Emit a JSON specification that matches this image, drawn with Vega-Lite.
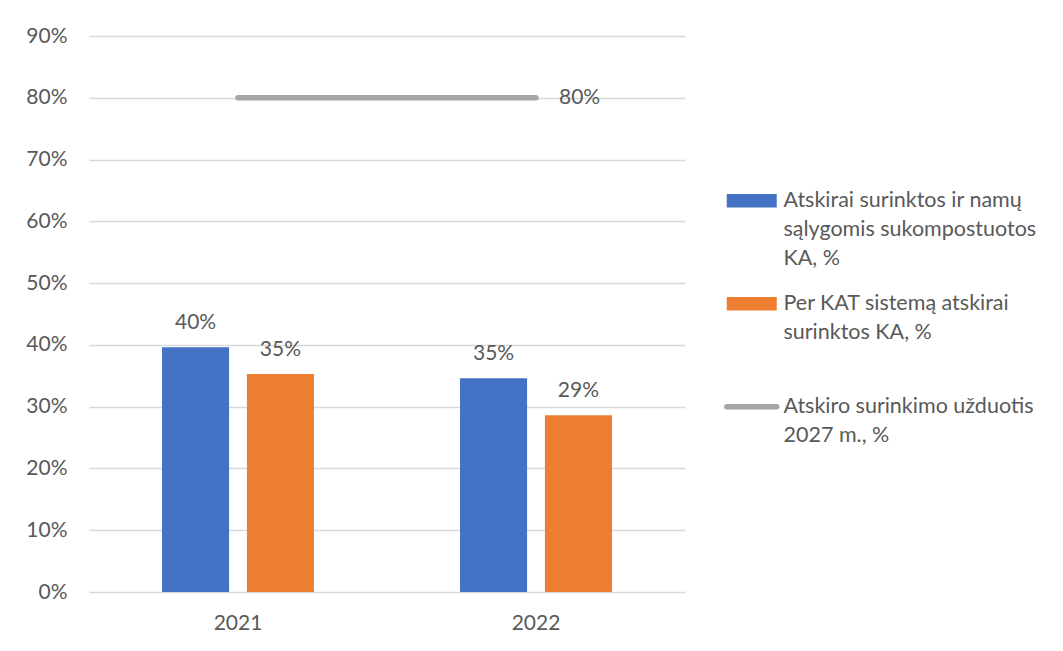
{
  "$schema": "https://vega.github.io/schema/vega-lite/v6.json",
  "width": 596,
  "height": 556,
  "autosize": {"type": "none"},
  "padding": {"left": 89, "top": 36, "right": 378, "bottom": 59},
  "background": "white",
  "config": {
    "view": {"stroke": null},
    "font": "Lato",
    "text": {"color": "#595959", "font": "Lato", "fontSize": 21}
  },
  "datasets": {
    "bars": [
      {"year": "2021", "series": "Atskirai surinktos ir namų sąlygomis sukompostuotos KA, %", "value": 0.396},
      {"year": "2021", "series": "Per KAT sistemą atskirai surinktos KA, %", "value": 0.353},
      {"year": "2022", "series": "Atskirai surinktos ir namų sąlygomis sukompostuotos KA, %", "value": 0.346},
      {"year": "2022", "series": "Per KAT sistemą atskirai surinktos KA, %", "value": 0.286}
    ],
    "target": [
      {"year": "2021", "series": "Atskiro surinkimo užduotis 2027 m., %", "value": 0.8},
      {"year": "2022", "series": "Atskiro surinkimo užduotis 2027 m., %", "value": 0.8}
    ]
  },
  "layer": [
    {
      "data": {"name": "bars"},
      "mark": {"type": "bar"},
      "encoding": {
        "x": {
          "field": "year", "type": "nominal",
          "scale": {"paddingInner": 0.49, "paddingOuter": 0.245},
          "axis": {"title": null, "labelAngle": 0, "domain": false, "ticks": false, "labelFontSize": 21, "labelColor": "#595959", "labelFont": "Lato", "labelPadding": 20}
        },
        "xOffset": {"field": "series", "type": "nominal", "sort": null, "scale": {"paddingInner": 0.21, "paddingOuter": 0}},
        "y": {
          "field": "value", "type": "quantitative",
          "scale": {"domain": [0, 0.9]},
          "axis": {"title": null, "format": ".0%", "values": [0, 0.1, 0.2, 0.3, 0.4, 0.5, 0.6, 0.7, 0.8, 0.9], "domain": false, "ticks": false, "gridColor": "#d9d9d9", "gridWidth": 1.5, "labelFontSize": 21, "labelColor": "#595959", "labelFont": "Lato", "labelPadding": 22}
        },
        "color": {
          "field": "series", "type": "nominal",
          "scale": {
            "domain": ["Atskirai surinktos ir namų sąlygomis sukompostuotos KA, %", "Per KAT sistemą atskirai surinktos KA, %", "Atskiro surinkimo užduotis 2027 m., %"],
            "range": ["#4472c4", "#ed7d31", "#a5a5a5"]
          },
          "legend": {
            "title": null,
            "orient": "none",
            "legendX": 652,
            "legendY": 154,
            "padding": 0,
            "symbolSize": 2500,
            "symbolType": "M-1,-0.27H1V0.27H-1Z",
            "labelOffset": 21,
            "labelLimit": 400,
            "labelFontSize": 21.5,
            "labelFont": "Lato",
            "labelColor": "#595959",
            "rowPadding": 22,
            "labelExpr": "substring(datum.label,0,8)=='Atskirai' ? ['Atskirai surinktos ir namų','sąlygomis sukompostuotos','KA, %'] : substring(datum.label,0,3)=='Per' ? ['Per KAT sistemą atskirai','surinktos KA, %',''] : ['Atskiro surinkimo užduotis','2027 m., %']",
            "encode": {
              "labels": {"update": {"lineHeight": {"value": 29}}},
              "symbols": {
                "update": {
                  "shape": {"signal": "substring(datum.value,0,8)=='Atskiro ' ? 'M-1,0H1' : 'M-1,-0.27H1V0.27H-1Z'"},
                  "fill": {"scale": "color", "field": "value"},
                  "stroke": {"scale": "color", "field": "value"},
                  "strokeWidth": {"signal": "substring(datum.value,0,8)=='Atskiro ' ? 5.5 : 0"},
                  "strokeCap": {"value": "round"},
                  "opacity": {"value": 1}
                }
              }
            }
          }
        }
      }
    },
    {
      "data": {"name": "bars"},
      "mark": {"type": "text", "baseline": "alphabetic", "dy": -18},
      "encoding": {
        "x": {"field": "year", "type": "nominal"},
        "xOffset": {"field": "series", "type": "nominal", "sort": null},
        "y": {"field": "value", "type": "quantitative"},
        "text": {"field": "value", "type": "quantitative", "format": ".0%"}
      }
    },
    {
      "data": {"name": "target"},
      "mark": {"type": "line", "strokeWidth": 5.5, "strokeCap": "round"},
      "encoding": {
        "x": {"field": "year", "type": "nominal"},
        "y": {"field": "value", "type": "quantitative"},
        "color": {"field": "series", "type": "nominal"}
      }
    },
    {
      "data": {"name": "target"},
      "transform": [{"filter": "datum.year == '2022'"}],
      "mark": {"type": "text", "align": "left", "baseline": "middle", "dx": 23},
      "encoding": {
        "x": {"field": "year", "type": "nominal"},
        "y": {"field": "value", "type": "quantitative"},
        "text": {"field": "value", "type": "quantitative", "format": ".0%"}
      }
    }
  ]
}
